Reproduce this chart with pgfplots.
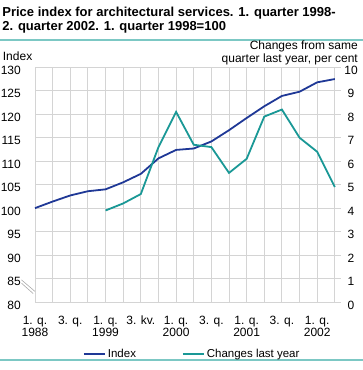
\documentclass[border=0pt]{standalone}
\usepackage{fontspec}
\setmainfont{Liberation Sans}
\usepackage{pgfplots}
\pgfplotsset{compat=1.18}
\definecolor{idxblue}{RGB}{31,56,150}
\definecolor{chgteal}{RGB}{26,152,150}
\definecolor{gridgray}{RGB}{212,212,212}
\definecolor{rule}{RGB}{124,200,196}
\begin{document}
\begin{tikzpicture}[x=1pt,y=1pt]
\useasboundingbox (0,0) rectangle (363,370);
\fill[rule] (0,329) rectangle (363,331);
\fill[rule] (0,9) rectangle (363,11);
\node[anchor=base west,inner sep=0pt,font=\bfseries\fontsize{13}{15}\selectfont] at (2.2,353.3) {Price index for architectural services. 1. quarter 1998-};
\node[anchor=base west,inner sep=0pt,font=\bfseries\fontsize{13}{15}\selectfont] at (2.2,339.3) {2. quarter 2002. 1. quarter 1998=100};
\node[anchor=base west,inner sep=0pt,font=\fontsize{12}{14}\selectfont] at (2.7,309.5) {Index};
\node[anchor=base east,inner sep=0pt,font=\fontsize{12}{14}\selectfont] at (358,320.5) {Changes from same};
\node[anchor=base east,inner sep=0pt,font=\fontsize{12}{14}\selectfont] at (358,307.5) {quarter last year, per cent};
\begin{axis}[
  at={(35pt,68pt)}, anchor=south west, scale only axis,
  width=306pt, height=234.7pt,
  xmin=0, xmax=17.35, ymin=80, ymax=130,
  ytick={80,85,...,130},
  xtick={0,...,17},
  xticklabels={{1. q.\\1988},,{3. q.},,{1. q.\\1999},,{3. kv.},,{1. q.\\2000},,{3. q.},,{1. q.\\2001},,{3. q.},,{1. q.\\2002},},
  grid=major,
  major grid style={gridgray, line width=0.9pt},
  axis lines=left,
  axis line style={gridgray, line width=0.9pt, -},
  major tick length=0pt,
  tick label style={font=\fontsize{12}{12}\selectfont, inner sep=0pt},
  /pgf/number format/assume math mode=true,
  yticklabel style={anchor=east, xshift=-14pt, yshift=-3pt},
  xticklabel style={align=center, anchor=north, yshift=-14pt},
  clip=false,
  legend columns=2,
  legend style={at={(0.514,-0.2216)}, anchor=center, draw=none, fill=none, inner sep=0pt,
    font=\fontsize{11.5}{12}\selectfont,
    /tikz/every even column/.append style={column sep=44pt}},
  legend image code/.code={\draw[#1] (0pt,0pt) -- (21pt,0pt);},
]
\addplot[idxblue, line width=1.8pt] coordinates {
(0,100.0) (1,101.4) (2,102.7) (3,103.6) (4,104.0) (5,105.5) (6,107.3) (7,110.6) (8,112.4) (9,112.7) (10,114.2) (11,116.6) (12,119.2) (13,121.7) (14,123.9) (15,124.8) (16,126.8) (17,127.5)
};
\addlegendentry{Index}
\addlegendimage{chgteal, line width=1.8pt}
\addlegendentry{Changes last year}
\draw[gridgray!80!black, line width=0.6pt] (rel axis cs:-0.044,0.094) -- (rel axis cs:0,0.045);
\draw[gridgray!80!black, line width=0.6pt] (rel axis cs:-0.044,0.080) -- (rel axis cs:-0.006,0.036);
\end{axis}
\begin{axis}[
  at={(35pt,68pt)}, anchor=south west, scale only axis,
  width=306pt, height=234.7pt,
  xmin=0, xmax=17.35, ymin=0, ymax=10,
  ytick={0,1,...,10},
  axis x line=none,
  axis y line*=right,
  axis line style={draw=none},
  major tick length=0pt,
  tick label style={font=\fontsize{12}{12}\selectfont, inner sep=0pt},
  /pgf/number format/assume math mode=true,
  yticklabel style={anchor=center, xshift=10pt, yshift=-3pt},
  clip=false,
]
\addplot[chgteal, line width=1.8pt] coordinates {
(4,3.9) (5,4.2) (6,4.6) (7,6.6) (8,8.1) (9,6.7) (10,6.6) (11,5.5) (12,6.1) (13,7.9) (14,8.2) (15,7.0) (16,6.4) (17,4.9)
};
\end{axis}
\end{tikzpicture}
\end{document}
